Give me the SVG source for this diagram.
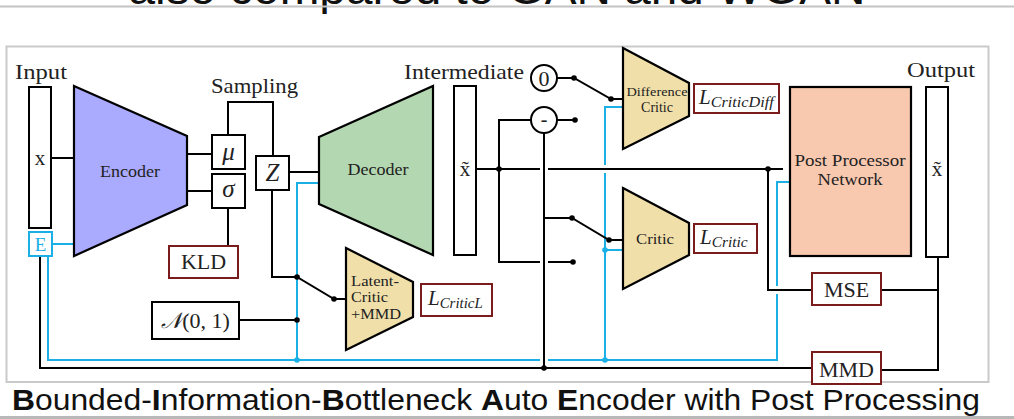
<svg xmlns="http://www.w3.org/2000/svg" width="1014" height="419" viewBox="0 0 1014 419">
<style>
.ln{fill:none;stroke:#000;stroke-width:2}
.cy{fill:none;stroke:#1ab0e6;stroke-width:2}
.dot{fill:#000}
.cdot{fill:#1ab0e6}
.box{fill:#fff;stroke:#000;stroke-width:2}
.loss{fill:#fff;stroke:#7a1c1c;stroke-width:2}
.t{font-family:"Liberation Serif","DejaVu Serif",serif;fill:#222}
.i{font-style:italic}
.crit{fill:#f0dfa9;stroke:#000;stroke-width:2.2}
.cap{font-family:"Liberation Sans",Arial,sans-serif;fill:#111}
</style>
<rect x="0" y="0" width="1014" height="419" fill="#fff"/>
<text class="cap" x="497" y="4" font-size="46" text-anchor="middle" textLength="737" lengthAdjust="spacingAndGlyphs">also compared to GAN and WGAN</text>
<line x1="0" y1="6.5" x2="1014" y2="6.5" stroke="#c4c4c4" stroke-width="2"/>
<rect x="6.5" y="46.5" width="982" height="335.5" fill="#fff" stroke="#cacaca" stroke-width="2"/>
<text class="cap" x="12" y="410" font-size="29" textLength="968" lengthAdjust="spacingAndGlyphs"><tspan font-weight="bold">B</tspan>ounded-<tspan font-weight="bold">I</tspan>nformation-<tspan font-weight="bold">B</tspan>ottleneck <tspan font-weight="bold">A</tspan>uto <tspan font-weight="bold">E</tspan>ncoder with Post Processing</text>
<line x1="0" y1="417.5" x2="1014" y2="417.5" stroke="#b8b8b8" stroke-width="3"/>

<g id="connectors">
<path class="cy" d="M52,244 H74"/>
<path class="cy" d="M48,256 V360 H540 M548,360 H777 V294 M777,286 V182 H790"/>
<path class="cy" d="M297,360 V183 H319"/>
<path class="cy" d="M605,360 V173 M605,165 V107 H623"/>
<path class="cy" d="M605,250 H623"/>
<circle class="cdot" cx="297" cy="360" r="2.8"/>
<circle class="cdot" cx="605" cy="360" r="2.8"/>
<circle class="cdot" cx="605" cy="250" r="2.8"/>
<path class="ln" d="M51,158 H74"/>
<path class="ln" d="M187,154 H212 M187,191 H212"/>
<path class="ln" d="M228,135 V102 H273 V156"/>
<path class="ln" d="M228,208 V246"/>
<path class="ln" d="M289,172 H319"/>
<path class="ln" d="M272,190 V277 H297 L334,299 H346"/>
<path class="ln" d="M239,320 H297"/>
<path class="ln" d="M40,256 V368 H812"/>
<path class="ln" d="M476,169 H540 M548,169 H783"/>
<path class="ln" d="M499,169 V120 H531"/>
<path class="ln" d="M499,169 V262 H540 M548,262 H573"/>
<path class="ln" d="M557,120 H575"/>
<path class="ln" d="M544,133 V368"/>
<path class="ln" d="M544,218 H572 L609,240 H623"/>
<path class="ln" d="M557,78 H574 L611,99 H623"/>
<path class="ln" d="M768,169 V290 H812"/>
<path class="ln" d="M938,257 V370 H881 M938,290 H881"/>
<circle class="dot" cx="297" cy="277" r="2.8"/>
<circle class="dot" cx="297" cy="320" r="2.8"/>
<circle class="dot" cx="334" cy="299" r="2.8"/>
<circle class="dot" cx="499" cy="169" r="2.8"/>
<circle class="dot" cx="768" cy="169" r="2.8"/>
<circle class="dot" cx="573" cy="262" r="2.8"/>
<circle class="dot" cx="575" cy="120" r="2.8"/>
<circle class="dot" cx="544" cy="368" r="2.8"/>
<circle class="dot" cx="572" cy="218" r="2.8"/>
<circle class="dot" cx="609" cy="240" r="2.8"/>
<circle class="dot" cx="574" cy="78" r="2.8"/>
<circle class="dot" cx="611" cy="99" r="2.8"/>
</g>

<g id="input">
<text class="t" x="15" y="79" font-size="22" textLength="52" lengthAdjust="spacingAndGlyphs">Input</text>
<rect class="box" x="29" y="87" width="22" height="141"/>
<text class="t" x="40" y="165" font-size="21" text-anchor="middle">x</text>
</g>
<g id="E">
<rect x="29" y="232" width="23" height="24" fill="#fff" stroke="#1ab0e6" stroke-width="2"/>
<text x="40.5" y="251" font-size="19" text-anchor="middle" font-family="Liberation Serif,serif" fill="#1ab0e6">E</text>
</g>
<g id="encoder">
<polygon points="74,86 187,136 187,205 74,256" fill="#aaaaff" stroke="#000" stroke-width="2.2"/>
<text class="t" x="130" y="177" font-size="17" text-anchor="middle" textLength="60" lengthAdjust="spacingAndGlyphs">Encoder</text>
</g>
<g id="sampling">
<text class="t" x="211" y="93" font-size="22" textLength="87" lengthAdjust="spacingAndGlyphs">Sampling</text>
</g>
<g id="mu">
<rect class="box" x="212" y="135" width="33" height="34"/>
<text class="t i" x="228.5" y="160" font-size="25" text-anchor="middle">μ</text>
</g>
<g id="sigma">
<rect class="box" x="212" y="174" width="33" height="34"/>
<text class="t i" x="228.5" y="197" font-size="25" text-anchor="middle">σ</text>
</g>
<g id="Z">
<rect class="box" x="256" y="156" width="33" height="34"/>
<text class="t i" x="272.5" y="181" font-size="25" text-anchor="middle">Z</text>
</g>
<g id="KLD">
<rect class="loss" x="169" y="246" width="69" height="32"/>
<text class="t" x="203.5" y="269" font-size="22" text-anchor="middle">KLD</text>
</g>
<g id="normal">
<rect class="box" x="152" y="302" width="87" height="37"/>
<text class="t" x="195.5" y="328" font-size="22" text-anchor="middle"><tspan font-style="italic">𝒩</tspan>(0, 1)</text>
</g>
<g id="latent-critic">
<polygon class="crit" points="346,248 413,282 413,317 346,350"/>
<text class="t" x="351" y="286" font-size="15" textLength="48" lengthAdjust="spacingAndGlyphs">Latent-</text>
<text class="t" x="351" y="302" font-size="15" textLength="37" lengthAdjust="spacingAndGlyphs">Critic</text>
<text class="t" x="351" y="319" font-size="15" textLength="50" lengthAdjust="spacingAndGlyphs">+MMD</text>
</g>
<g id="L-criticL">
<rect class="loss" x="421" y="284" width="71" height="32"/>
<text class="t i" x="428" y="305" font-size="21">L<tspan font-size="14" dy="3" textLength="43" lengthAdjust="spacingAndGlyphs">CriticL</tspan></text>
</g>
<g id="decoder">
<polygon points="319,137 433,86 433,255 319,204" fill="#b3d7b1" stroke="#000" stroke-width="2.2"/>
<text class="t" x="378" y="175" font-size="17" text-anchor="middle" textLength="61" lengthAdjust="spacingAndGlyphs">Decoder</text>
</g>
<g id="intermediate">
<text class="t" x="404" y="79" font-size="22" textLength="120" lengthAdjust="spacingAndGlyphs">Intermediate</text>
<rect class="box" x="454" y="86" width="22" height="169"/>
<text class="t" x="465" y="176" font-size="21" text-anchor="middle">x̃</text>
</g>
<g id="zero">
<circle class="box" cx="544" cy="78" r="13"/>
<text class="t" x="544" y="86" font-size="22" text-anchor="middle">0</text>
</g>
<g id="minus">
<circle class="box" cx="544" cy="120" r="13"/>
<text class="t" x="544" y="126" font-size="20" text-anchor="middle">-</text>
</g>
<g id="difference-critic">
<polygon class="crit" points="623,48 689,83 689,116 623,149"/>
<text class="t" x="657" y="96" font-size="13" text-anchor="middle" textLength="61" lengthAdjust="spacingAndGlyphs">Difference</text>
<text class="t" x="657" y="112" font-size="14" text-anchor="middle">Critic</text>
</g>
<g id="L-criticdiff">
<rect class="loss" x="694" y="84" width="85" height="29"/>
<text class="t i" x="699" y="104" font-size="21">L<tspan font-size="14" dy="3" textLength="63" lengthAdjust="spacingAndGlyphs">CriticDiff</tspan></text>
</g>
<g id="critic">
<polygon class="crit" points="623,188 689,223 689,255 623,289"/>
<text class="t" x="655" y="244" font-size="15" text-anchor="middle" textLength="38" lengthAdjust="spacingAndGlyphs">Critic</text>
</g>
<g id="L-critic">
<rect class="loss" x="694" y="224" width="63" height="29"/>
<text class="t i" x="700" y="244" font-size="21">L<tspan font-size="14" dy="3" textLength="36" lengthAdjust="spacingAndGlyphs">Critic</tspan></text>
</g>
<g id="post-processor">
<rect x="790" y="87" width="121" height="169" fill="#f8c8af" stroke="#000" stroke-width="2.2"/>
<text class="t" x="850" y="166" font-size="17" text-anchor="middle" textLength="111" lengthAdjust="spacingAndGlyphs">Post Processor</text>
<text class="t" x="850" y="185" font-size="17" text-anchor="middle" textLength="65" lengthAdjust="spacingAndGlyphs">Network</text>
</g>
<g id="output">
<text class="t" x="907" y="77" font-size="22" textLength="68" lengthAdjust="spacingAndGlyphs">Output</text>
<rect class="box" x="926" y="87" width="22" height="170"/>
<text class="t" x="937" y="176" font-size="21" text-anchor="middle">x̃</text>
</g>
<g id="MSE">
<rect class="loss" x="812" y="273" width="69" height="32"/>
<text class="t" x="846.5" y="297" font-size="22" text-anchor="middle">MSE</text>
</g>
<g id="MMD">
<rect class="loss" x="812" y="352" width="69" height="32"/>
<text class="t" x="846.5" y="377" font-size="22" text-anchor="middle">MMD</text>
</g>
</svg>
